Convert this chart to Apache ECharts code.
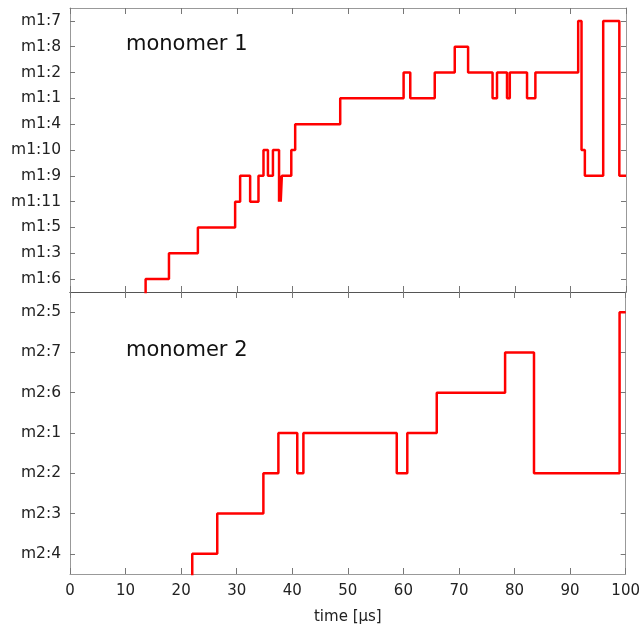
<!DOCTYPE html>
<html>
<head>
<meta charset="utf-8">
<script src="https://cdn.jsdelivr.net/npm/echarts@6/dist/echarts.min.js"></script>
<style>
html,body{margin:0;padding:0;background:#fff;}
#chart{width:643px;height:626px;}
</style>
</head>
<body>
<div id="chart"></div>
<script>
// y tick labels, bottom to top
const m1States = ['m1:6','m1:3','m1:5','m1:11','m1:9','m1:10','m1:4','m1:1','m1:2','m1:8','m1:7'];
const m2States = ['m2:4','m2:3','m2:2','m2:1','m2:6','m2:7','m2:5'];

// monomer 1 trajectory: time of each transition and state entered
const m1Times = [13.6, 17.8, 23.0, 29.7, 30.6, 32.4, 33.9, 34.8, 35.6, 36.5, 37.6, 37.8, 37.9, 38.1, 39.8, 40.5, 48.6, 60.0, 61.2, 65.6, 69.2, 71.6, 76.0, 76.8, 78.6, 79.1, 82.2, 83.7, 91.4, 92.0, 92.6, 95.9, 98.8];
const m1Seq   = ['m1:6','m1:3','m1:5','m1:11','m1:9','m1:11','m1:9','m1:10','m1:9','m1:10','m1:11','m1:9','m1:11','m1:9','m1:10','m1:4','m1:1','m1:2','m1:1','m1:2','m1:8','m1:2','m1:1','m1:2','m1:1','m1:2','m1:1','m1:2','m1:7','m1:10','m1:9','m1:7','m1:9'];

// monomer 2 trajectory
const m2Times = [22.0, 26.5, 34.8, 37.5, 40.9, 42.0, 58.8, 60.7, 66.0, 78.3, 83.5, 98.9];
const m2Seq   = ['m2:4','m2:3','m2:2','m2:1','m2:2','m2:1','m2:2','m2:1','m2:6','m2:7','m2:2','m2:5'];

const tStart = 0, tEnd = 100;
const xTickLabels = [0,10,20,30,40,50,60,70,80,90,100];

function buildData(times, seq, states) {
  // before the first transition the monomer is in no listed state (drawn below the axis range)
  const d = [[tStart, -1]];
  for (let i = 0; i < times.length; i++) d.push([times[i], states.indexOf(seq[i])]);
  d.push([tEnd, states.indexOf(seq[seq.length - 1])]);
  return d;
}

const FONT = 'DejaVu Sans';
const frameColor = '#999';
const midColor = '#555';
const tickStyle = { color: '#777', width: 1 };

function idx(n) { const a = []; for (let i = 0; i < n; i++) a.push(i); return a; }

function xAx(grid, pos, opts) {
  return Object.assign({
    type: 'value', gridIndex: grid, position: pos, min: 0, max: 100, interval: 10,
    axisLine: { show: true, onZero: false, lineStyle: { color: frameColor, width: 1 } },
    axisTick: { show: true, inside: true, length: 6, lineStyle: tickStyle },
    axisLabel: { show: false },
    splitLine: { show: false }
  }, opts);
}
function yAx(grid, pos, states, showLabels) {
  const vals = idx(states.length);
  return {
    type: 'value', gridIndex: grid, position: pos, min: -0.5, max: states.length - 0.5,
    axisLine: { show: true, onZero: false, lineStyle: { color: frameColor, width: 1 } },
    axisTick: { show: true, inside: true, length: 5, customValues: vals, lineStyle: tickStyle },
    axisLabel: {
      show: showLabels, customValues: vals, margin: 9,
      fontFamily: FONT, fontSize: 15.5, color: '#222',
      formatter: v => states[Math.round(v)] || ''
    },
    splitLine: { show: false }
  };
}

const chart = echarts.init(document.getElementById('chart'), null, { renderer: 'canvas' });
chart.setOption({
  animation: false,
  backgroundColor: '#fff',
  grid: [
    { left: 70, right: 17, top: 8, height: 284, containLabel: false },
    { left: 70, right: 17, top: 292, height: 284, containLabel: false }
  ],
  xAxis: [
    xAx(0, 'bottom', { axisLine: { show: true, onZero: false, lineStyle: { color: midColor, width: 1 } } }),
    xAx(0, 'top', {}),
    xAx(1, 'bottom', {
      axisLabel: { show: true, margin: 10, fontFamily: FONT, fontSize: 15, color: '#222' },
      name: 'time [μs]', nameLocation: 'middle', nameGap: 36,
      nameTextStyle: { fontFamily: FONT, fontSize: 15, color: '#222' }
    }),
    xAx(1, 'top', { axisLine: { show: true, onZero: false, lineStyle: { color: midColor, width: 1 } } })
  ],
  yAxis: [
    yAx(0, 'left', m1States, true),
    yAx(0, 'right', m1States, false),
    yAx(1, 'left', m2States, true),
    yAx(1, 'right', m2States, false)
  ],
  graphic: [
    { type: 'text', left: 126, top: 34, style: { text: 'monomer 1', fontFamily: FONT, fontSize: 21, fill: '#111' } },
    { type: 'text', left: 126, top: 340, style: { text: 'monomer 2', fontFamily: FONT, fontSize: 21, fill: '#111' } }
  ],
  series: [
    {
      type: 'line', xAxisIndex: 0, yAxisIndex: 0, step: 'end', showSymbol: false, symbol: 'none',
      clip: true, data: buildData(m1Times, m1Seq, m1States),
      lineStyle: { color: '#ff0000', width: 2.5 }
    },
    {
      type: 'line', xAxisIndex: 2, yAxisIndex: 2, step: 'end', showSymbol: false, symbol: 'none',
      clip: true, data: buildData(m2Times, m2Seq, m2States),
      lineStyle: { color: '#ff0000', width: 2.5 }
    }
  ]
});
</script>
</body>
</html>
